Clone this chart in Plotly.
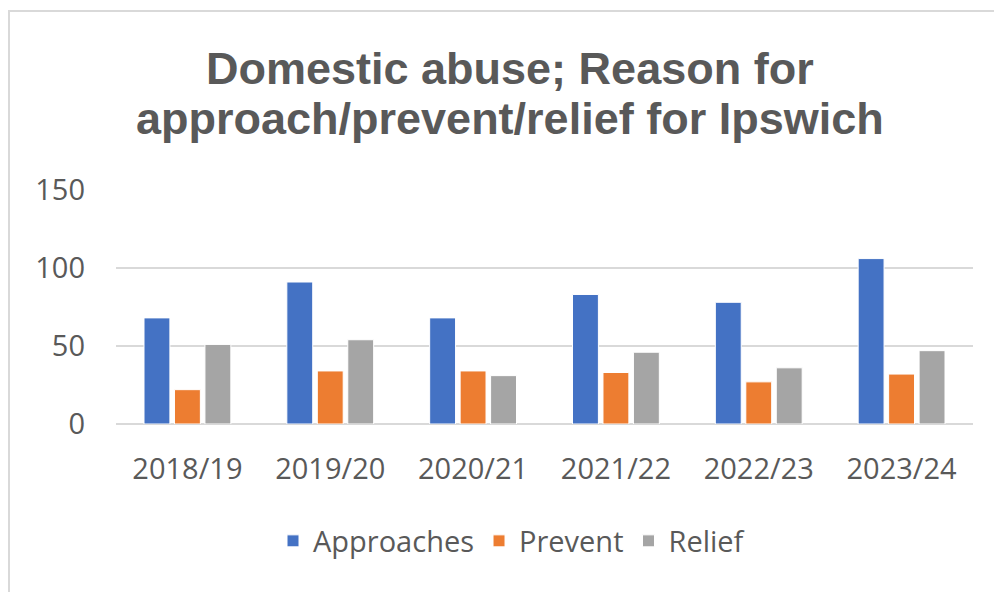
import plotly.graph_objects as go

categories = ["2018/19", "2019/20", "2020/21", "2021/22", "2022/23", "2023/24"]
approaches = [68, 91, 68, 83, 78, 106]
prevent = [22, 34, 34, 33, 27, 32]
relief = [51, 54, 31, 46, 36, 47]
y_ticks = [0, 50, 100, 150]
title_lines = ["Domestic abuse; Reason for", "approach/prevent/relief for Ipswich"]

# page has an 8px body margin, so the figure is drawn 8px smaller and offset
OFF = 8
W, H = 1002 - OFF, 592 - OFF
ML, MR, MT, MB = 116 - OFF, 1002 - 973, 189 - OFF, 592 - 424
PW = W - ML - MR
PH = H - MT - MB


def px_x(x):
    return (x - OFF - ML) / PW


def px_y(y):
    return 1 - (y - OFF - MT) / PH


fig = go.Figure()
for name, vals, col in [("Approaches", approaches, "#4472C4"),
                        ("Prevent", prevent, "#ED7D31"),
                        ("Relief", relief, "#A5A5A5")]:
    fig.add_trace(go.Bar(x=categories, y=vals, name=name,
                         marker=dict(color=col, line=dict(color="white", width=1))))

font_fam = "Open Sans, Liberation Sans, sans-serif"
title_font = dict(family="Liberation Sans, Arial, sans-serif", size=45,
                  color="#595959", weight="bold")
annotations = [
    dict(text=title_lines[0], x=px_x(510), y=px_y(68), xref="paper", yref="paper",
         xanchor="center", yanchor="middle", showarrow=False, font=title_font),
    dict(text=title_lines[1], x=px_x(510), y=px_y(118), xref="paper", yref="paper",
         xanchor="center", yanchor="middle", showarrow=False, font=title_font),
]

fig.update_layout(
    width=W, height=H,
    margin=dict(l=ML, r=MR, t=MT, b=MB),
    paper_bgcolor="white", plot_bgcolor="white",
    barmode="group", bargap=0.36, bargroupgap=0.15,
    font=dict(family=font_fam, color="#595959", size=29),
    showlegend=True,
    annotations=annotations,
    legend=dict(orientation="h", x=px_x(512), xanchor="center",
                y=px_y(541), yanchor="middle",
                font=dict(family=font_fam, size=29, color="#595959"),
                traceorder="normal"),
    shapes=[dict(type="rect", xref="paper", yref="paper",
                 x0=px_x(9), x1=px_x(1020),
                 y0=px_y(620), y1=px_y(11),
                 line=dict(color="#D9D9D9", width=2), layer="below")],
)
fig.update_xaxes(showgrid=False, showline=False, ticks="", ticklabelstandoff=25,
                 tickfont=dict(family=font_fam, size=29, color="#595959"))
fig.update_yaxes(range=[0, 150.6], tickvals=y_ticks, showgrid=True, gridcolor="#D9D9D9",
                 gridwidth=2, zeroline=True, zerolinecolor="#D9D9D9", zerolinewidth=2,
                 showline=False, ticks="", ticklabelstandoff=30,
                 tickfont=dict(family=font_fam, size=29, color="#595959"))

fig.write_html("out.html")
